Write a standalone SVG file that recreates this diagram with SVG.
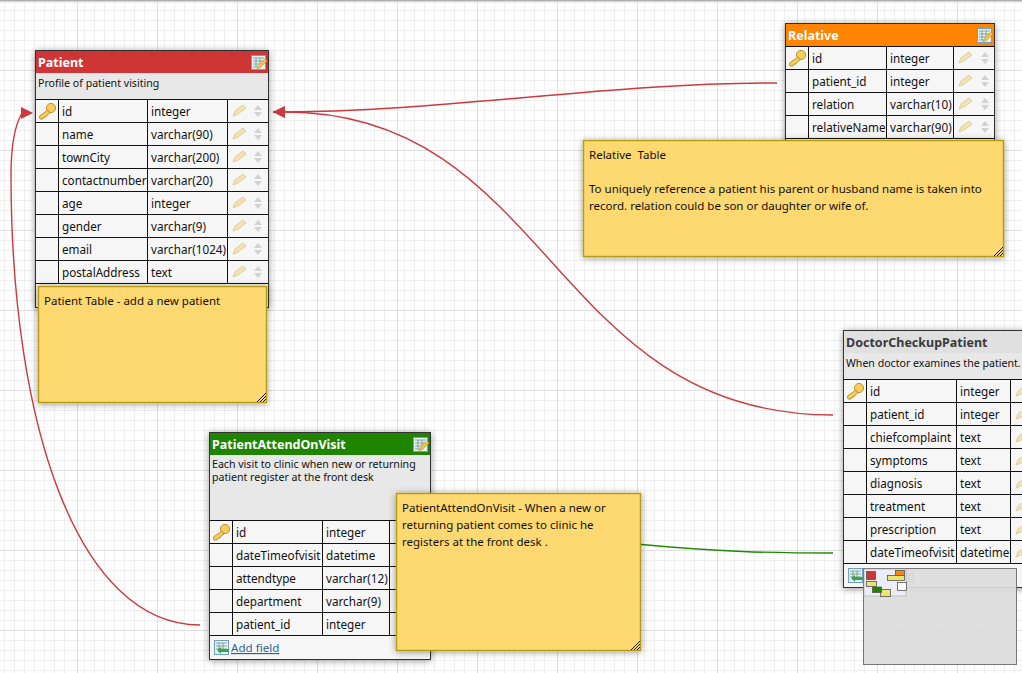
<svg xmlns="http://www.w3.org/2000/svg" width="1022" height="673" viewBox="0 0 1022 673">
<style>
text{font-family:"Noto Sans","DejaVu Sans",sans-serif;font-size:11.7px;fill:#111}
.box{fill:#f6f6f6;stroke:#333;stroke-width:1}
.desc{fill:#e8e8e8}
.ln{stroke:#111;stroke-width:1;fill:none}
text.hd{font-weight:700;font-size:12.5px;fill:#fff}
text.d{font-size:10.6px}
text.n{font-size:11.5px;white-space:pre}
.note{fill:#fed870;stroke:#b59b10;stroke-width:1.4}
.conn{fill:none;stroke-width:1.4}
.red{stroke:#cc3a3f}
.grn{stroke:#1f8a00}
text.link{fill:#2a6496;text-decoration:underline;font-size:11.6px}
</style>
<defs>
<pattern id="grid" patternUnits="userSpaceOnUse" x="-3" y="-10" width="80" height="80">
<path d="M7 0V80M17 0V80M27 0V80M37 0V80M47 0V80M57 0V80M67 0V80M0 10H80M0 20H80M0 30H80M0 40H80M0 50H80M0 60H80M0 70H80" stroke="#efefef" stroke-width="1" fill="none" transform="translate(.5 .5)"/>
<path d="M0 0V80M0 0H80" stroke="#e0e0e0" stroke-width="1" fill="none" transform="translate(0.5 0.5)"/>
</pattern>
<linearGradient id="top" x1="0" y1="0" x2="0" y2="1"><stop offset="0" stop-color="#999"/><stop offset="1" stop-color="#fff" stop-opacity="0"/></linearGradient>
<filter id="sh" x="-8%" y="-8%" width="116%" height="116%"><feDropShadow dx="0" dy="1" stdDeviation="3.5" flood-color="#000" flood-opacity=".4"/></filter>
<marker id="ar" viewBox="0 0 12 12" refX="12" refY="6" markerWidth="12" markerHeight="12" markerUnits="userSpaceOnUse" orient="auto"><path d="M0 0L12 6L0 12z" fill="#cc3a3f"/></marker>
<marker id="ar0" viewBox="0 0 12 12" refX="1" refY="6" markerWidth="12" markerHeight="12" markerUnits="userSpaceOnUse" orient="0"><path d="M0 0L12 6L0 12z" fill="#cc3a3f"/></marker>
<g id="key"><circle cx="13" cy="-4" r="4.6" fill="#f6cf5a" stroke="#c3912b"/><path d="M10 -2L1.5 4L2 7L5 7L6 5L8 5L9 3L12 1z" fill="#f6cf5a" stroke="#c3912b"/></g>
<g id="pen"><path d="M0 0L2 -5L10 -11L13 -8L5 -2z" fill="#f3e3b3" stroke="#dcc489" stroke-width=".8"/></g>
<g id="ud"><path d="M0 -2L4 -7L8 -2zM0 0L8 0L4 5z" fill="#d2d2d2"/></g>
<g id="tbl"><rect x=".5" y=".5" width="14" height="14" fill="#e4f0fa" stroke="#6c9fcd"/><path d="M2 3H13M2 6H13M2 9H13M2 12H10M5 3V12M9 3V12" stroke="#5f8c6c" stroke-width=".7"/><path d="M6 14L8 9L14 4L16 6L10 12z" fill="#f4c04a" stroke="#c4912b" stroke-width=".5"/></g>
<g id="add"><rect x=".5" y=".5" width="14" height="14" fill="#e4f0fa" stroke="#6c9fcd"/><path d="M2 3H13M2 6H13M2 9H13M5 3V12M9 3V12" stroke="#5f8c6c" stroke-width=".7"/><path d="M3 10L7 7V9H15V12H7V14z" fill="#3fa34d"/></g>
</defs>

<rect width="1022" height="673" fill="#fff"/>
<rect width="1022" height="673" fill="url(#grid)"/>
<rect width="1022" height="4" fill="url(#top)"/>

<g id="connectors">
<path class="conn red" marker-end="url(#ar)" d="M777 83C600 83 450 112 273 112"/>
<path class="conn red" marker-end="url(#ar)" d="M833 415C551 415 551 112 285 112L273 112"/>
<path class="conn red" marker-end="url(#ar0)" d="M200 625C79 625 11 428 11 175C11 145 15 125 22 113"/>
<path class="conn grn" d="M636 544C720 552 770 553 833 553"/>
</g>

<g id="patient">
<rect class="box" x="35.5" y="50.5" width="233" height="257" filter="url(#sh)"/>
<rect x="36" y="51" width="232" height="22" fill="#cf3535"/>
<rect class="desc" x="36" y="73" width="232" height="26"/>
<text class="hd" x="38" y="67">Patient</text>
<use href="#tbl" x="251" y="55"/>
<text class="d" x="38" y="87">Profile of patient visiting</text>
<path class="ln" d="M35.5 99.5H268.5M35.5 122.5H268.5M35.5 145.5H268.5M35.5 168.5H268.5M35.5 191.5H268.5M35.5 214.5H268.5M35.5 237.5H268.5M35.5 260.5H268.5M35.5 283.5H268.5M58.5 99.5V283.5M147.5 99.5V283.5M227.5 99.5V283.5"/>
<use href="#key" x="38" y="112"/>
<text x="62" y="116">id</text><text x="151" y="116">integer</text>
<text x="62" y="139">name</text><text x="151" y="139">varchar(90)</text>
<text x="62" y="162">townCity</text><text x="151" y="162">varchar(200)</text>
<text x="62" y="185">contactnumber</text><text x="151" y="185">varchar(20)</text>
<text x="62" y="208">age</text><text x="151" y="208">integer</text>
<text x="62" y="231">gender</text><text x="151" y="231">varchar(9)</text>
<text x="62" y="254">email</text><text x="151" y="254">varchar(1024)</text>
<text x="62" y="277">postalAddress</text><text x="151" y="277">text</text>
<use href="#pen" x="233" y="116"/><use href="#pen" x="233" y="139"/><use href="#pen" x="233" y="162"/><use href="#pen" x="233" y="185"/><use href="#pen" x="233" y="208"/><use href="#pen" x="233" y="231"/><use href="#pen" x="233" y="254"/><use href="#pen" x="233" y="277"/>
<use href="#ud" x="254" y="112"/><use href="#ud" x="254" y="135"/><use href="#ud" x="254" y="158"/><use href="#ud" x="254" y="181"/><use href="#ud" x="254" y="204"/><use href="#ud" x="254" y="227"/><use href="#ud" x="254" y="250"/><use href="#ud" x="254" y="273"/>
</g>

<g id="relative">
<rect class="box" x="785.5" y="23.5" width="209" height="137" filter="url(#sh)"/>
<rect x="786" y="24" width="208" height="22" fill="#fe8401"/>
<text class="hd" x="788" y="40">Relative</text>
<use href="#tbl" x="977" y="28"/>
<path class="ln" d="M785.5 46.5H994.5M785.5 69.5H994.5M785.5 92.5H994.5M785.5 115.5H994.5M785.5 138.5H994.5M808.5 46.5V138.5M886.5 46.5V138.5M953.5 46.5V138.5"/>
<use href="#key" x="788" y="59"/>
<text x="812" y="63">id</text><text x="890" y="63">integer</text>
<text x="812" y="86">patient_id</text><text x="890" y="86">integer</text>
<text x="812" y="109">relation</text><text x="890" y="109">varchar(10)</text>
<text x="812" y="132">relativeName</text><text x="890" y="132">varchar(90)</text>
<use href="#pen" x="959" y="63"/><use href="#pen" x="959" y="86"/><use href="#pen" x="959" y="109"/><use href="#pen" x="959" y="132"/>
<use href="#ud" x="981" y="59"/><use href="#ud" x="981" y="82"/><use href="#ud" x="981" y="105"/><use href="#ud" x="981" y="128"/>
</g>

<g id="doctorcheckuppatient">
<rect class="box" x="843.5" y="330.5" width="190" height="257" filter="url(#sh)"/>
<rect x="844" y="331" width="180" height="22" fill="#e0e0e0"/>
<rect class="desc" x="844" y="353" width="180" height="26"/>
<text class="hd" x="846" y="347" style="fill:#3a3a3a">DoctorCheckupPatient</text>
<text class="d" x="846" y="367">When doctor examines the patient.</text>
<path class="ln" d="M843.5 379.5H1022M843.5 402.5H1022M843.5 425.5H1022M843.5 448.5H1022M843.5 471.5H1022M843.5 494.5H1022M843.5 517.5H1022M843.5 540.5H1022M843.5 563.5H1022M866.5 379.5V563.5M956.5 379.5V563.5M1010.5 379.5V563.5"/>
<use href="#key" x="846" y="392"/>
<text x="870" y="396">id</text><text x="960" y="396">integer</text>
<text x="870" y="419">patient_id</text><text x="960" y="419">integer</text>
<text x="870" y="442">chiefcomplaint</text><text x="960" y="442">text</text>
<text x="870" y="465">symptoms</text><text x="960" y="465">text</text>
<text x="870" y="488">diagnosis</text><text x="960" y="488">text</text>
<text x="870" y="511">treatment</text><text x="960" y="511">text</text>
<text x="870" y="534">prescription</text><text x="960" y="534">text</text>
<text x="870" y="557">dateTimeofvisit</text><text x="960" y="557">datetime</text>
<use href="#pen" x="1016" y="396"/><use href="#pen" x="1016" y="419"/><use href="#pen" x="1016" y="442"/><use href="#pen" x="1016" y="465"/><use href="#pen" x="1016" y="488"/><use href="#pen" x="1016" y="511"/><use href="#pen" x="1016" y="534"/><use href="#pen" x="1016" y="557"/>
<use href="#add" x="848" y="568"/>
<text class="link" x="866" y="580">Add field</text>
</g>

<g id="patientattendonvisit">
<rect class="box" x="209.5" y="432.5" width="221" height="227" filter="url(#sh)"/>
<rect x="210" y="433" width="220" height="22" fill="#1f8400"/>
<rect class="desc" x="210" y="455" width="220" height="65"/>
<text class="hd" x="212" y="449">PatientAttendOnVisit</text>
<use href="#tbl" x="413" y="437"/>
<text class="d" x="212" y="468">Each visit to clinic when new or returning</text>
<text class="d" x="212" y="481">patient register at the front desk</text>
<path class="ln" d="M209.5 520.5H430.5M209.5 543.5H430.5M209.5 566.5H430.5M209.5 589.5H430.5M209.5 612.5H430.5M209.5 635.5H430.5M232.5 520.5V635.5M322.5 520.5V635.5M389.5 520.5V635.5"/>
<use href="#key" x="212" y="533"/>
<text x="236" y="537">id</text><text x="326" y="537">integer</text>
<text x="236" y="560">dateTimeofvisit</text><text x="326" y="560">datetime</text>
<text x="236" y="583">attendtype</text><text x="326" y="583">varchar(12)</text>
<text x="236" y="606">department</text><text x="326" y="606">varchar(9)</text>
<text x="236" y="629">patient_id</text><text x="326" y="629">integer</text>
<use href="#add" x="214" y="640"/>
<text class="link" x="231" y="652">Add field</text>
</g>

<g id="note-patient">
<rect class="note" x="38.5" y="286.5" width="228" height="116" filter="url(#sh)"/>
<path class="ln" d="M257 402L266 393M260 402L266 396M263 402L266 399" stroke-width=".8"/>
<text class="n" x="44" y="305">Patient Table - add a new patient</text>
</g>
<g id="note-relative">
<rect class="note" x="583.5" y="140.5" width="420" height="116" filter="url(#sh)"/>
<path class="ln" d="M994 256L1003 247M997 256L1003 250M1000 256L1003 253" stroke-width=".8"/>
<text class="n" x="589" y="159">Relative  Table</text>
<text class="n" x="589" y="193">To uniquely reference a patient his parent or husband name is taken into</text>
<text class="n" x="589" y="210">record. relation could be son or daughter or wife of.</text>
</g>
<g id="note-attend">
<rect class="note" x="396.5" y="493.5" width="244" height="157" filter="url(#sh)"/>
<path class="ln" d="M631 650L640 641M634 650L640 644M637 650L640 647" stroke-width=".8"/>
<text class="n" x="402" y="512">PatientAttendOnVisit - When a new or</text>
<text class="n" x="402" y="529">returning patient comes to clinic he</text>
<text class="n" x="402" y="546">registers at the front desk .</text>
</g>

<g id="minimap">
<rect x="863.5" y="568.5" width="153" height="96" fill="#dcdcdc" fill-opacity=".92" stroke="#777"/>
<rect x="864" y="569" width="42" height="27" fill="#f0f0ff" fill-opacity=".85" stroke="#999" stroke-width=".5"/>
<rect x="866.5" y="571.5" width="9" height="8" fill="#cf3535" stroke="#555" stroke-width=".8"/>
<rect x="895.5" y="570.5" width="9" height="5" fill="#fe8401" stroke="#555" stroke-width=".8"/>
<rect x="887.5" y="575.5" width="17" height="5" fill="#e8e66e" stroke="#555" stroke-width=".8"/>
<rect x="866.5" y="581.5" width="10" height="5" fill="#e8e66e" stroke="#555" stroke-width=".8"/>
<rect x="880.5" y="589.5" width="10" height="7" fill="#e8e66e" stroke="#555" stroke-width=".8"/>
<rect x="872.5" y="587" width="9" height="5.5" fill="#1f8400" stroke="#555" stroke-width=".8"/>
<rect x="897.5" y="582.5" width="9" height="8" fill="#fff" stroke="#555" stroke-width=".8"/>
</g>
</svg>
